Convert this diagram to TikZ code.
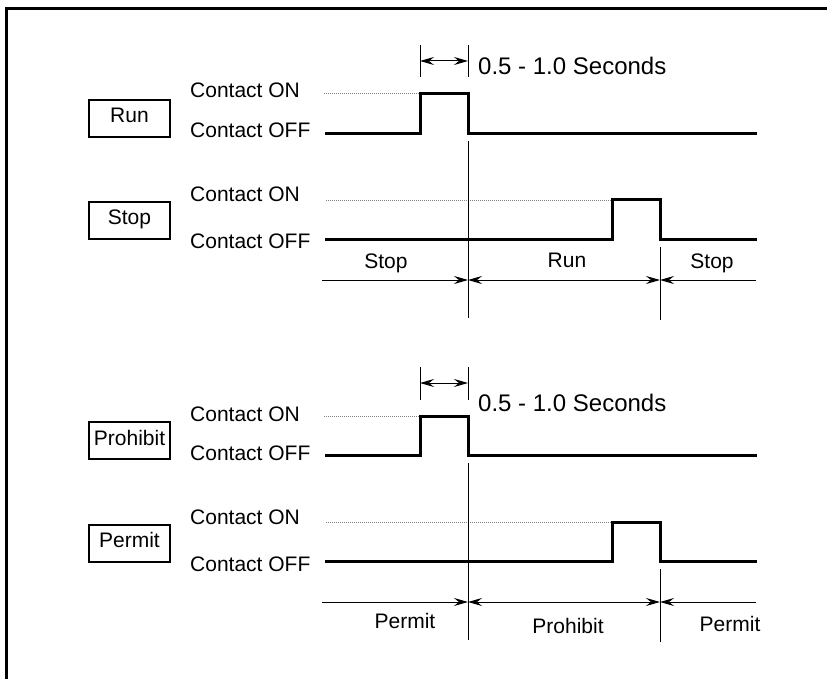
\documentclass[tikz,border=0pt]{standalone}
\usepackage{fontspec}
\setmainfont{Liberation Sans}
\usetikzlibrary{arrows.meta}
\tikzset{>={Stealth[length=14pt,width=8pt,inset=5pt]}}

\begin{document}
\begin{tikzpicture}[x=1pt,y=-1pt,
    font=\fontsize{21}{25}\selectfont,
    wave/.style={line width=3pt},
    level/.style={line width=0.8pt, gray, dash pattern=on 1pt off 1pt},
    fine/.style={line width=1pt},
    namebox/.style={draw, line width=2pt, minimum width=81pt, minimum height=37pt, inner sep=0pt, text depth=6pt},
    lbl/.style={anchor=base west, inner sep=0pt},
    per/.style={anchor=base, inner sep=0pt},
    secs/.style={anchor=base west, inner sep=0pt, font=\fontsize{24}{28}\selectfont}]
\useasboundingbox (0,0) rectangle (827,679);
\clip (0,0) rectangle (827,679);
\draw[line width=3pt] (6,9) rectangle (845,700);

% name boxes
\node[namebox] (run) at (129.5,118.5) {Run};
\node[namebox] (stop) at (129.5,220.5) {Stop};
\node[namebox] (prohibit) at (129.5,440.5) {Prohibit};
\node[namebox] (permit) at (129.5,543) {Permit};

% contact levels
\node[lbl] (runon) at (190,98) {Contact ON};
\node[lbl] (runoff) at (190,138) {Contact OFF};
\node[lbl] (stopon) at (190,202) {Contact ON};
\node[lbl] (stopoff) at (190,248) {Contact OFF};
\node[lbl] (prohon) at (190,421) {Contact ON};
\node[lbl] (prohoff) at (190,460) {Contact OFF};
\node[lbl] (permon) at (190,524) {Contact ON};
\node[lbl] (permoff) at (190,571) {Contact OFF};

% run / stop signals
\draw[level] (324,93.5) -- (420,93.5);
\draw[wave] (325,133.5) -| (420,93.5) -| (468,133.5) -- (757,133.5);
\draw[level] (326,200) -- (612,200);
\draw[wave] (325,239) -| (612,200) -| (660,239) -- (757,239);

% pulse width
\draw[fine] (420,45) -- (420,77) (468,45) -- (468,77);
\draw[fine,<->] (420,61) -- (468,61);
\node[secs] (secA) at (478,75) {0.5 - 1.0 Seconds};

\draw[fine] (468,141) -- (468,318);
\draw[fine] (660,247) -- (660,320);

% states
\coordinate (a0) at (322,280);
\coordinate (a1) at (468,280);
\coordinate (a2) at (660,280);
\coordinate (a3) at (756,280);
\draw[fine,->] (a0) -- (a1);
\draw[fine,<->] (a1) -- (a2);
\draw[fine,->] (a3) -- (a2);
\node[per] (st1) at (386,268) {Stop};
\node[per] (rn1) at (567,267) {Run};
\node[per] (st2) at (712,268) {Stop};

% prohibit / permit signals
\draw[level] (324,416) -- (420,416);
\draw[wave] (325,455.7) -| (420,416) -| (468,455.7) -- (757,455.7);
\draw[level] (326,522) -- (612,522);
\draw[wave] (325,561) -| (612,522) -| (660,561) -- (757,561);

% pulse width
\draw[fine] (420,367) -- (420,400) (468,367) -- (468,400);
\draw[fine,<->] (420,383) -- (468,383);
\node[secs] (secB) at (478,411) {0.5 - 1.0 Seconds};

\draw[fine] (468,463) -- (468,640);
\draw[fine] (660,569) -- (660,642);

% states
\coordinate (b0) at (322,602);
\coordinate (b1) at (468,602);
\coordinate (b2) at (660,602);
\coordinate (b3) at (756,602);
\draw[fine,->] (b0) -- (b1);
\draw[fine,<->] (b1) -- (b2);
\draw[fine,->] (b3) -- (b2);
\node[per] (pm1) at (405,628) {Permit};
\node[per] (ph1) at (568,633) {Prohibit};
\node[per] (pm2) at (730,631) {Permit};
\end{tikzpicture}
\end{document}
